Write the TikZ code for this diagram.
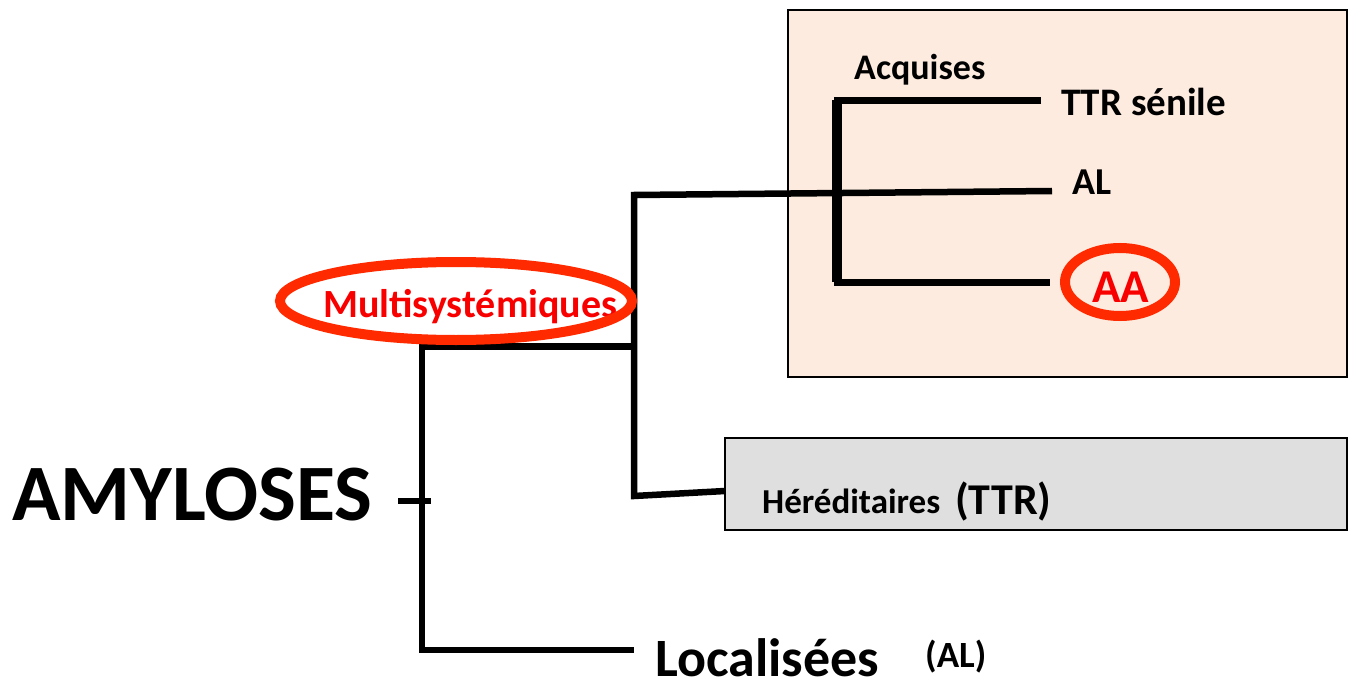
\documentclass[tikz,border=0pt]{standalone}
\usepackage{fontspec}
\setmainfont{Carlito}
\usetikzlibrary{positioning}

\definecolor{peach}{HTML}{FDEBDF}
\definecolor{boxgrey}{HTML}{DFDFDF}
\definecolor{ringred}{HTML}{FF2A00}
\definecolor{textred}{HTML}{F80000}

\newcommand{\fsz}[1]{\fontsize{#1}{#1}\selectfont}

\tikzset{
  txt/.style={inner sep=0pt, anchor=base west},
  branch/.style={line width=6.5pt, line join=miter},
  ring/.style={draw=ringred, line width=10pt},
  panel/.style={draw, line width=1.5pt}
}

\begin{document}
\begin{tikzpicture}[x=1pt, y=-1pt]
    \useasboundingbox (0,0) rectangle (1351,687);

    % background panels
    \draw[panel, fill=peach] (788,10) rectangle (1347,377);
    \draw[panel, fill=boxgrey] (725,438) rectangle (1347,530);

    % labels
    \node[txt, font=\bfseries\fsz{80}] (amyloses) at (12,520) {AMYLOSES};
    \node[txt, font=\bfseries\fsz{54}] (localisees) at (655,676) {Localisées};
    \node[txt, font=\bfseries\fsz{37}] (localAL) at (925,667) {(AL)};
    \node[txt, font=\bfseries\fsz{35}] (hered) at (762,513) {Héréditaires};
    \node[txt, font=\bfseries\fsz{44}] (heredTTR) at (955,514) {(TTR)};
    \node[txt, font=\bfseries\fsz{36}] (acquises) at (854,80) {Acquises};
    \node[txt, font=\bfseries\fsz{39}] (ttrsenile) at (1061,116) {TTR sénile};
    \node[txt, font=\bfseries\fsz{38}] (al) at (1072,194) {AL};
    \node[txt, font=\bfseries\fsz{47}, text=textred] (aa) at (1092,302) {AA};
    \node[txt, font=\bfseries\fsz{40}, text=textred] (multi) at (323,317) {Multisystémiques};

    % junctions of the tree
    \coordinate (tick) at (398,501);
    \coordinate (root) at (431,501);
    \coordinate (rootTop) at (422,346.5);
    \coordinate (rootBot) at (422,650);
    \coordinate (locEnd) at (634,650);
    \coordinate (multiMid) at (634,346.5);
    \coordinate (multiTop) at (634,195);
    \coordinate (multiBot) at (634,496);
    \coordinate (alEnd) at (1052,191);
    \coordinate (heredEnd) at (725,491);
    \coordinate (acqTop) at (837,100.5);
    \coordinate (acqBot) at (837,282);
    \coordinate (ttrEnd) at (1041,100.5);
    \coordinate (aaEnd) at (1050,282);

    % branches
    \draw[branch] (tick) -- (root);
    \draw[branch] (multiMid) -- (rootTop) -- (rootBot) -- (locEnd);
    \draw[branch] (alEnd) -- (multiTop) -- (multiBot) -- (heredEnd);
    \draw[branch, line width=7pt] (ttrEnd) -- (acqTop) -- (acqBot) -- (aaEnd);
    \draw[line width=10pt] (acqTop) -- (acqBot);

    % red rings
    \draw[ring] (456,301) ellipse (176pt and 39pt);
    \draw[ring] (1120,282) ellipse (55pt and 34pt);
\end{tikzpicture}
\end{document}
